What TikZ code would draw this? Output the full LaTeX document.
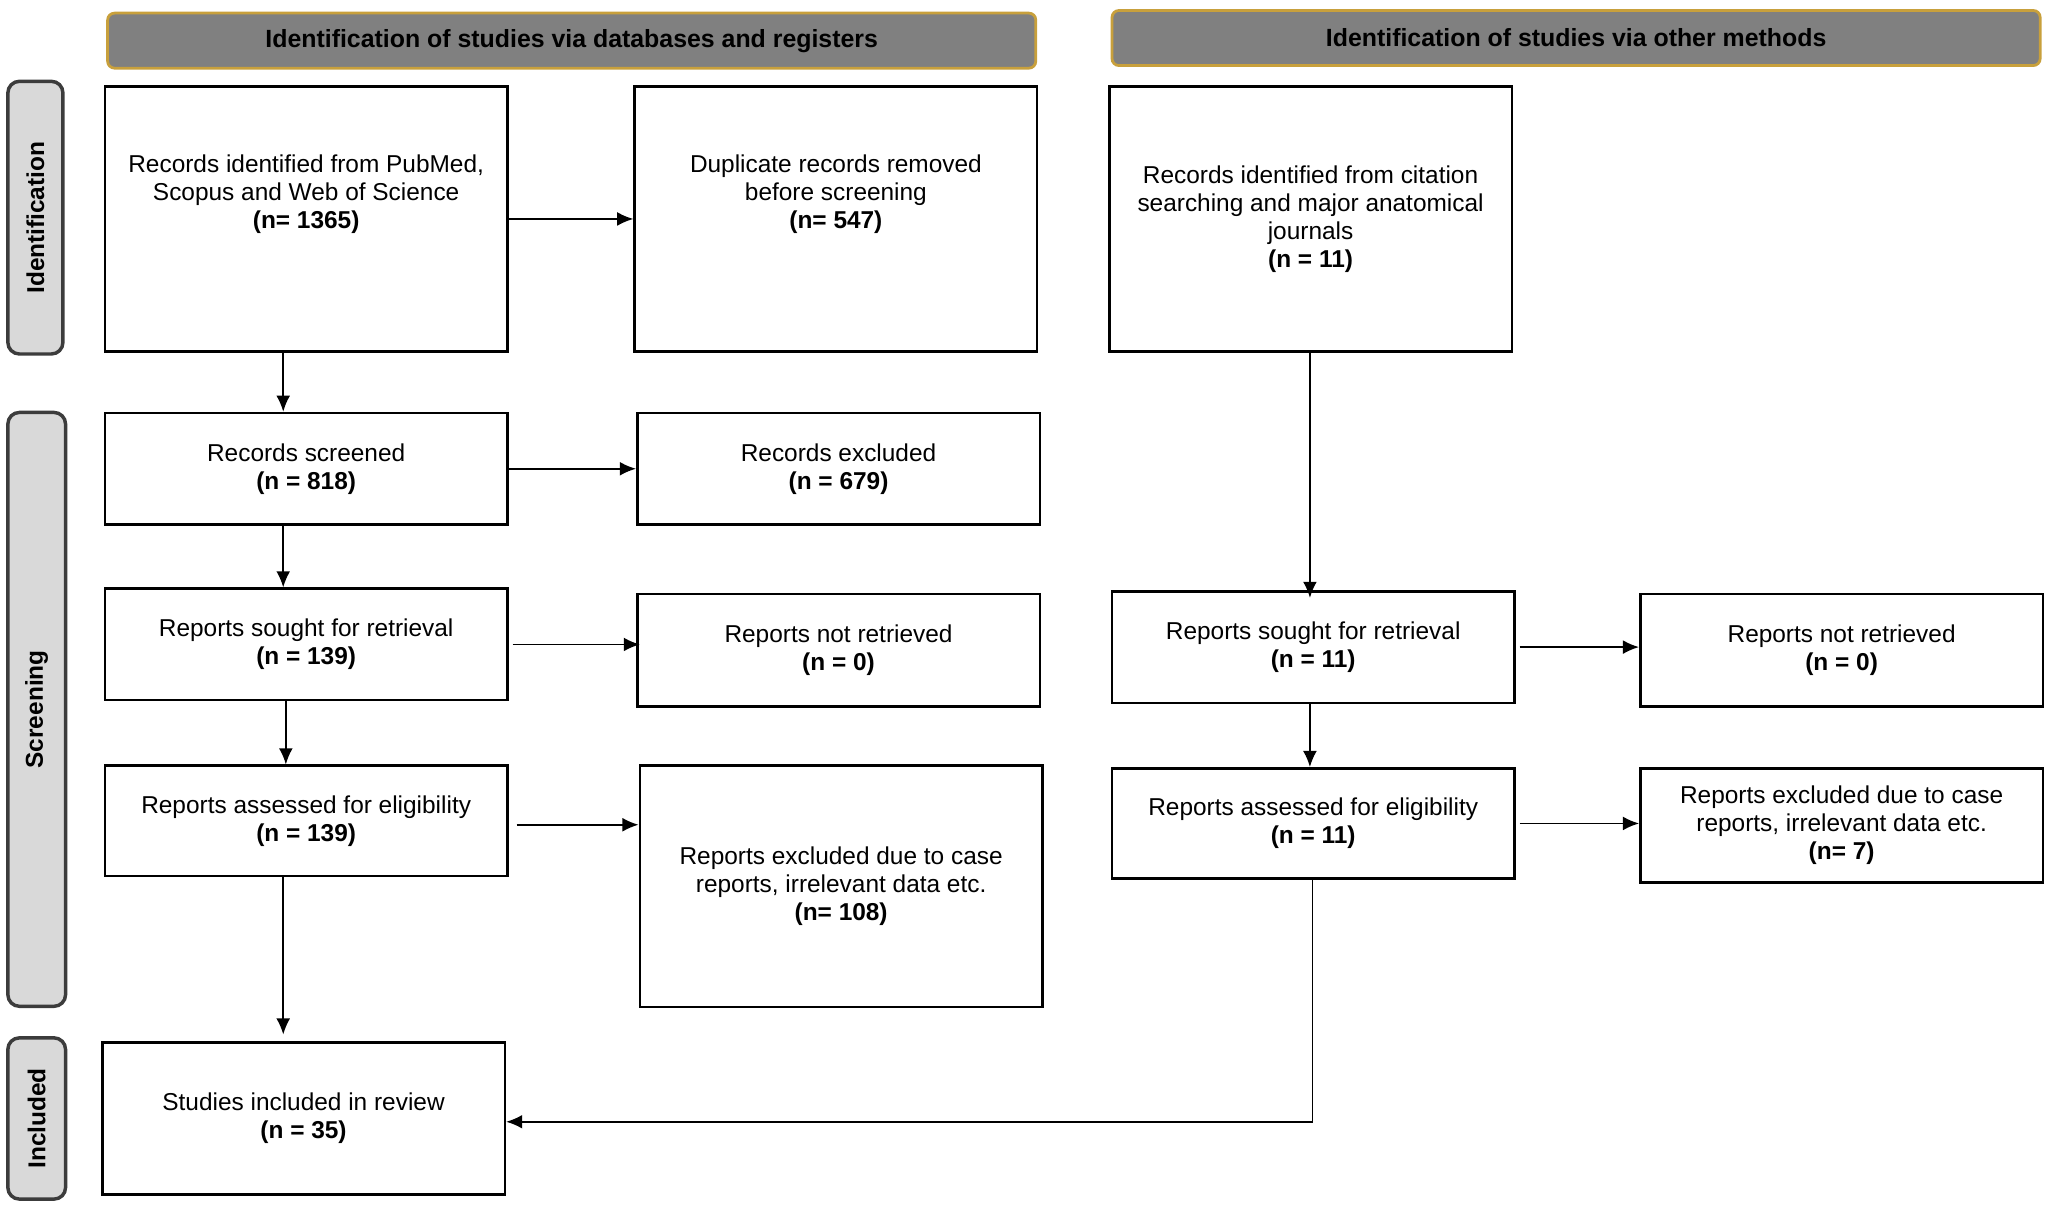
\documentclass[tikz,border=0pt]{standalone}
\usepackage{fontspec}
\setmainfont{Liberation Sans}
\usetikzlibrary{arrows.meta}
\begin{document}
\begin{tikzpicture}[x=0.02cm,y=-0.02cm,
  bx/.style={draw,line width=1.1pt,align=center,font=\fontsize{10.6}{12.2}\selectfont,inner sep=0pt},
  hd/.style={draw={rgb,255:red,200;green,160;blue,60},fill={rgb,255:red,128;green,128;blue,128},line width=1.2pt,rounded corners=3pt,font=\bfseries\fontsize{10.8}{12}\selectfont,inner sep=0pt},
  sd/.style={draw={rgb,255:red,60;green,60;blue,60},fill={rgb,255:red,217;green,217;blue,217},line width=1.5pt,rounded corners=5pt,inner sep=0pt},
  sl/.style={rotate=90,font=\bfseries\fontsize{10.6}{12}\selectfont},
  ar/.style={-{Latex[length=7pt,width=6pt]},line width=0.8pt}]
\useasboundingbox (0,0) rectangle (1568,922);
\newcommand{\bxx}[6]{\node[bx,minimum width={(#3-#2)*0.02cm},minimum height={(#5-#4)*0.02cm}] (#1) at ({(#2+#3)/2},{(#4+#5)/2}) {#6};}
% headers
\node[hd,minimum width=14.16cm,minimum height=0.84cm] (h1) at (436,31) {Identification of studies via databases and registers};
\node[hd,minimum width=14.16cm,minimum height=0.84cm] (h2) at (1202,29) {Identification of studies via other methods};
% side
\node[sd,minimum width=0.84cm,minimum height=4.16cm] (s1) at (27,166) {};
\node[sl] (s1t) at (s1) {Identification};
\node[sd,minimum width=0.88cm,minimum height=9.06cm] (s2) at (28,541) {};
\node[sl] (s2t) at (s2) {Screening};
\node[sd,minimum width=0.88cm,minimum height=2.46cm] (s3) at (28,853) {};
\node[sl] (s3t) at (s3) {Included};
% boxes
\bxx{A}{80}{387}{66}{268}{Records identified from PubMed,\\Scopus and Web of Science\\\textbf{(n= 1365)}\\[0.4cm]}
\bxx{B}{484}{791}{66}{268}{Duplicate records removed\\before screening\\\textbf{(n= 547)}\\[0.4cm]}
\bxx{C}{846}{1153}{66}{268}{Records identified from citation\\searching and major anatomical\\journals\\\textbf{(n = 11)}}
\bxx{D}{80}{387}{315}{400}{Records screened\\\textbf{(n = 818)}}
\bxx{E}{486}{793}{315}{400}{Records excluded\\\textbf{(n = 679)}}
\bxx{F}{80}{387}{449}{534}{Reports sought for retrieval\\\textbf{(n = 139)}}
\bxx{G}{486}{793}{453}{539}{Reports not retrieved\\\textbf{(n = 0)}}
\bxx{H}{80}{387}{584}{668}{Reports assessed for eligibility\\\textbf{(n = 139)}}
\bxx{I}{488}{795}{584}{768}{Reports excluded due to case\\reports, irrelevant data etc.\\\textbf{(n= 108)}}
\bxx{J}{78}{385}{795}{911}{Studies included in review\\\textbf{(n = 35)}}
\bxx{K}{848}{1155}{451}{536}{Reports sought for retrieval\\\textbf{(n = 11)}}
\bxx{L}{1251}{1558}{453}{539}{Reports not retrieved\\\textbf{(n = 0)}}
\bxx{M}{848}{1155}{586}{670}{Reports assessed for eligibility\\\textbf{(n = 11)}}
\bxx{N}{1251}{1558}{586}{673}{Reports excluded due to case\\reports, irrelevant data etc.\\\textbf{(n= 7)}}
% arrows
\draw[ar] (A.east) -- (B.west);
\draw[ar] (D.east) -- (D.east -| E.west);
\draw[ar] ([xshift=0.06cm]F.east) -- ([xshift=0.06cm]F.east -| G.west);
\draw[ar] ([xshift=0.12cm,yshift=-0.06cm]H.east) -- ([yshift=-0.06cm]H.east -| I.west);
\draw[ar] ([xshift=0.06cm]K.east) -- (K.east -| L.west);
\draw[ar] ([xshift=0.06cm]M.east) -- (M.east -| N.west);
\draw[ar] (A.south -| 216,0) -- (D.north -| 216,0);
\draw[ar] (D.south -| 216,0) -- (F.north -| 216,0);
\draw[ar] (F.south -| 218,0) -- (H.north -| 218,0);
\draw[ar] (H.south -| 216,0) -- ([yshift=0.1cm]J.north -| 216,0);
\draw[ar] (C.south -| 999,0) -- ([yshift=-0.12cm]K.north -| 999,0);
\draw[ar] (K.south -| 999,0) -- (M.north -| 999,0);
\draw[ar] (M.south -| 1001,0) |- ([yshift=-0.05cm]J.east);
\end{tikzpicture}
\end{document}
